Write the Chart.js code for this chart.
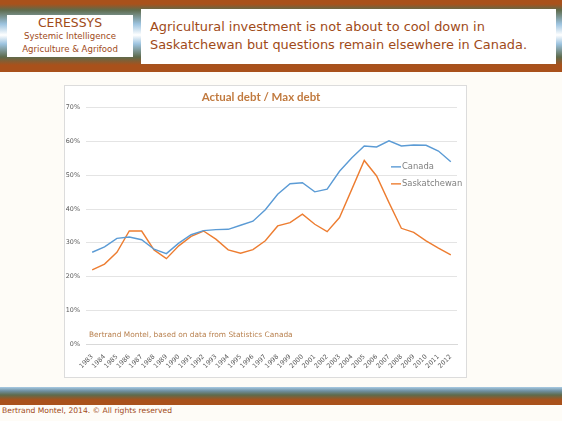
<!DOCTYPE html>
<html>
<head>
<meta charset="utf-8">
<script src="https://cdn.jsdelivr.net/npm/chart.js@4.4.1/dist/chart.umd.min.js"></script>
<style>
  html, body { margin: 0; padding: 0; }
  body {
    width: 562px; height: 421px; position: relative; overflow: hidden;
    background: #fefcf7; font-family: "DejaVu Sans", sans-serif; color: #a04a18;
  }
  #header {
    position: absolute; left: 0; top: 0; width: 562px; height: 72px;
    background: linear-gradient(to bottom, #a9511b 0px, #a9511b 4px, #5e6b4c 10px, #9cc3df 24px,
      #ffffff 35px, #9cc3df 44px, #5e6b4c 57px, #a9511b 65px, #a9511b 72px);
  }
  #logo {
    position: absolute; left: 7px; top: 15px; width: 126px; height: 42px;
    background: #fff; text-align: center; color: #a04a18;
  }
  #logo .big { font-size: 12.4px; line-height: 14px; margin-top: 1px; }
  #logo .small { font-size: 8.6px; line-height: 13px; }
  #headline {
    position: absolute; left: 141px; top: 9px; width: 415px; height: 55px;
    background: #fff; font-size: 12.9px; line-height: 18px; color: #a04a18;
    box-sizing: border-box; padding: 9px 0 0 9px; white-space: nowrap;
  }
  #box {
    position: absolute; left: 64px; top: 85px; width: 401px; height: 291px;
    background: #fff; border: 1px solid #dcdcdc;
  }
  #chart { position: absolute; left: 0; top: 0; }
  #footband {
    position: absolute; left: 0; top: 387px; width: 562px; height: 18px;
    background: linear-gradient(to bottom, #a9cbe4 0px, #6e8fa0 4px, #5e6b4c 8px, #a9511b 13px, #a9511b 18px);
  }
  #foot {
    position: absolute; left: 2px; top: 405px; font-size: 7.6px; line-height: 12px; color: #a04a18;
  }
</style>
</head>
<body>
<div id="header">
  <div id="logo">
    <div class="big">CERESSYS</div>
    <div class="small">Systemic Intelligence</div>
    <div class="small">Agriculture &amp; Agrifood</div>
  </div>
  <div id="headline">Agricultural investment is not about to cool down in<br>Saskatchewan but questions remain elsewhere in Canada.</div>
</div>
<div id="box"><canvas id="chart" width="401" height="291"></canvas></div>
<div id="footband"></div>
<div id="foot">Bertrand Montel, 2014. © All rights reserved</div>
<script>
const years = ['1983', '1984', '1985', '1986', '1987', '1988', '1989', '1990', '1991', '1992',
  '1993', '1994', '1995', '1996', '1997', '1998', '1999', '2000', '2001', '2002',
  '2003', '2004', '2005', '2006', '2007', '2008', '2009', '2010', '2011', '2012'];

const canada = [27.2, 28.8, 31.3, 31.7, 30.9, 28.1, 26.8, 29.9, 32.4, 33.6,
  33.9, 34.0, 35.2, 36.4, 39.8, 44.4, 47.5, 47.8, 45.1, 45.9,
  51.2, 55.2, 58.7, 58.4, 60.2, 58.7, 59.0, 58.9, 57.2, 54.0];

const saskatchewan = [22.0, 23.7, 27.2, 33.5, 33.5, 27.9, 25.3, 29.1, 31.9, 33.5,
  31.1, 27.9, 26.9, 28.0, 30.6, 35.0, 36.0, 38.5, 35.5, 33.3,
  37.5, 45.9, 54.4, 49.8, 41.9, 34.3, 33.1, 30.6, 28.4, 26.4];

const yTicks = [0, 10, 20, 30, 40, 50, 60, 70];

const chartTitle = 'Actual debt / Max debt';
const sourceNote = 'Bertrand Montel, based on data from Statistics Canada';

const blue = '#5b9bd5';
const orange = '#ed7d31';

// legend and source note drawn inside the plot, like the Excel original
const overlay = {
    id: 'overlay',
    afterDatasetsDraw(chart) {
        const ctx = chart.ctx;
        const area = chart.chartArea;
        const y = chart.scales.y;
        ctx.save();
        ctx.font = '7.4px "DejaVu Sans", sans-serif';
        ctx.fillStyle = '#b8804e';
        ctx.textBaseline = 'middle';
        ctx.fillText(sourceNote, area.left + 3, y.getPixelForValue(0) - 9);

        const items = [['Canada', blue], ['Saskatchewan', orange]];
        ctx.font = '8.4px "DejaVu Sans", sans-serif';
        items.forEach((item, i) => {
            const ly = y.getPixelForValue(52.5) + i * 17;
            const lx = area.right - 66;
            ctx.strokeStyle = item[1];
            ctx.lineWidth = 1.4;
            ctx.beginPath();
            ctx.moveTo(lx, ly);
            ctx.lineTo(lx + 10, ly);
            ctx.stroke();
            ctx.fillStyle = '#7f7f7f';
            ctx.fillText(item[0], lx + 11, ly);
        });
        ctx.restore();
    }
};

new Chart(document.getElementById('chart').getContext('2d'), {
    type: 'line',
    data: {
        labels: years,
        datasets: [
            { label: 'Canada', data: canada, borderColor: blue, borderWidth: 1.4, pointRadius: 0, tension: 0 },
            { label: 'Saskatchewan', data: saskatchewan, borderColor: orange, borderWidth: 1.4, pointRadius: 0, tension: 0 }
        ]
    },
    options: {
        responsive: false,
        animation: false,
        layout: { padding: { left: 0, right: 9, top: 0, bottom: 6 } },
        plugins: {
            legend: { display: false },
            tooltip: { enabled: false },
            title: {
                display: true,
                text: chartTitle,
                color: '#c17a3f',
                font: { family: 'Lato, "Open Sans", sans-serif', size: 11.5 },
                padding: { top: 4, bottom: 4 }
            }
        },
        scales: {
            x: {
                offset: true,
                grid: { display: false },
                border: { color: '#d9d9d9' },
                ticks: {
                    color: '#595959',
                    font: { family: '"DejaVu Sans", sans-serif', size: 6.4 },
                    maxRotation: 45, minRotation: 45, autoSkip: false, padding: 1
                }
            },
            y: {
                min: 0, max: 70,
                afterBuildTicks(scale) { scale.ticks = yTicks.map(v => ({ value: v })); },
                afterFit(scale) { scale.width = 21; },
                grid: { color: '#e4e4e4', drawTicks: false },
                border: { display: false },
                ticks: {
                    color: '#595959',
                    font: { family: '"DejaVu Sans", sans-serif', size: 6.4 },
                    padding: 6,
                    callback: v => v + '%'
                }
            }
        }
    },
    plugins: [overlay]
});
</script>
</body>
</html>
